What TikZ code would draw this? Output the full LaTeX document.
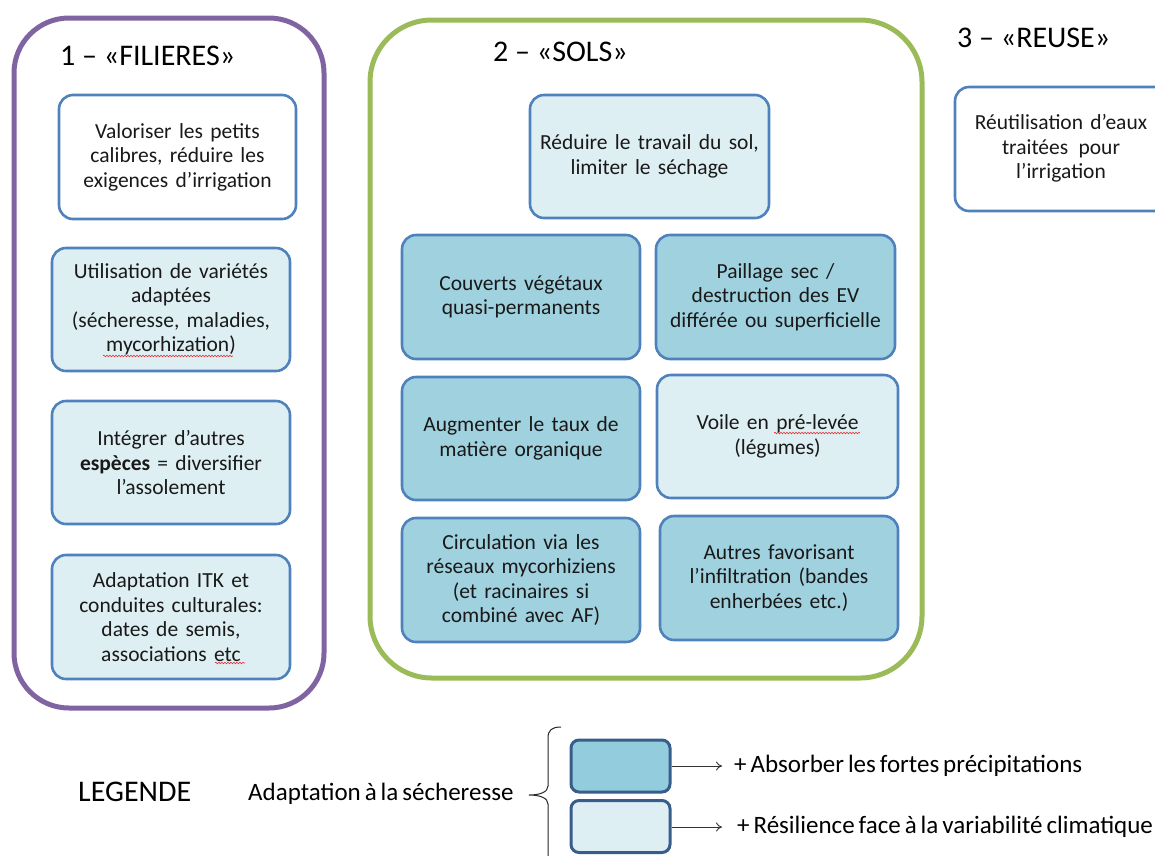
\documentclass[tikz,border=0pt]{standalone}
\usepackage{fontspec}
\setmainfont{Carlito}
\newfontfamily\legfont[WordSpace=0.7]{Carlito}
\newcommand\boxfnt{\fontsize{21.5}{24.5}\selectfont\spaceskip=0.34em plus 0.1em\relax}
\usetikzlibrary{decorations.pathmorphing,arrows.meta}
\definecolor{bcol}{HTML}{4F81BD}
\definecolor{darkfill}{HTML}{A0D1DF}
\definecolor{lightfill}{HTML}{DEEFF4}
\definecolor{purp}{HTML}{8064A2}
\definecolor{grn}{HTML}{9BBB59}
\definecolor{lgb}{HTML}{385D8A}
\definecolor{lgdark}{HTML}{93CDDD}
\definecolor{spell}{HTML}{E03030}
\tikzset{
  sbox/.style={draw=bcol, line width=2.6pt, rounded corners=14pt, inner sep=0pt,
    align=center, font=\boxfnt, text=black!90},
  dk/.style={sbox, fill=darkfill},
  lt/.style={sbox, fill=lightfill},
  wh/.style={sbox, fill=white},
  grp/.style={line width=5pt, inner sep=0pt, fill=none},
  ttl/.style={anchor=west, inner sep=0pt, font=\fontsize{30}{32}\selectfont},
  legtxt/.style={anchor=west, inner sep=0pt, font=\legfont\fontsize{25}{28}\selectfont},
  lgbox/.style={draw=lgb, line width=3pt, rounded corners=8pt, inner sep=0pt,
    minimum width=99pt, minimum height=52pt},
  squig/.style={spell, line width=0.6pt, decorate,
    decoration={snake, segment length=3pt, amplitude=0.8pt}},
  arr/.style={line width=0.9pt, black!80, -{To[length=6pt,width=9pt]}}
}
\begin{document}
\begin{tikzpicture}[x=1pt,y=-1pt]
\useasboundingbox (0,0) rectangle (1155,855);
\clip (0,0) rectangle (1155,855);

% group containers
\node[grp, draw=purp, rounded corners=55pt, minimum width=310pt, minimum height=690pt] (g1) at (169,363) {};
\node[grp, draw=grn, rounded corners=62pt, minimum width=552pt, minimum height=658pt] (g2) at (646,349) {};

% titles
\node[ttl] (t1) at (60,56) {1 – «FILIERES»};
\node[ttl] (t2) at (493,52) {2 – «SOLS»};
\node[ttl] (t3) at (957,38) {3 – «REUSE»};

% column 1
\node[wh, minimum width=237pt, minimum height=124pt] (a) at (177.5,157)
  {Valoriser les petits\\calibres, réduire les\\exigences d’irrigation};
\node[lt, minimum width=238pt, minimum height=123pt] (b) at (171,309.5)
  {Utilisation de variétés\\adaptées\\(sécheresse, maladies,\\mycorhization)};
\node[lt, minimum width=238pt, minimum height=123pt] (c) at (171,462.5)
  {Intégrer d’autres\\\textbf{espèces} = diversifier\\l’assolement};
\node[lt, minimum width=238pt, minimum height=124pt] (d) at (171,617)
  {Adaptation ITK et\\conduites culturales:\\dates de semis,\\associations etc};

% column 2
\node[lt, minimum width=239pt, minimum height=123pt] (s0) at (649.5,156.5)
  {Réduire le travail du sol,\\limiter le séchage};
\node[dk, minimum width=238pt, minimum height=124pt] (s1) at (521,297)
  {Couverts végétaux\\quasi-permanents};
\node[dk, minimum width=239pt, minimum height=124pt] (s2) at (775.5,297)
  {Paillage sec /\\destruction des EV\\différée ou superficielle};
\node[dk, minimum width=238pt, minimum height=123pt] (s3) at (521,438.5)
  {Augmenter le taux de\\matière organique};
\node[lt, minimum width=241pt, minimum height=123pt] (s4) at (777.5,436.5)
  {Voile en pré-levée\\(légumes)};
\node[dk, minimum width=238pt, minimum height=124pt] (s5) at (521,580)
  {Circulation via les\\réseaux mycorhiziens\\(et racinaires si\\combiné avec AF)};
\node[dk, minimum width=238pt, minimum height=124pt] (s6) at (779,578)
  {Autres favorisant\\l’infiltration (bandes\\enherbées etc.)};

% column 3
\node[wh, minimum width=238pt, minimum height=124pt] (r) at (1074,149) {};
\node[align=center, inner sep=0pt, font=\boxfnt, text=black!90] (rt) at (1061,148.5)
  {Réutilisation d’eaux\\traitées\hspace{3pt} pour\\l’irrigation};

% spell-check squiggles
\draw[squig] (103,356) -- (233,356);
\draw[squig] (215,663) -- (245,663);
\draw[squig] (774,433) -- (860,433);

% legend
\node[legtxt, font=\legfont\fontsize{30}{32}\selectfont] (leg) at (78,792) {LEGENDE};
\node[legtxt] (ad) at (248,794) {Adaptation à la sécheresse};
\draw[line width=1pt, black!85] (561,727) .. controls (552,727) and (548,730) .. (548,738)
  -- (548,786) .. controls (548,792) and (540,795) .. (529,795)
  .. controls (540,795) and (548,798) .. (548,804) -- (548,870);
\node[lgbox, fill=lgdark] (l1) at (620.5,766) {};
\node[lgbox, fill=lightfill] (l2) at (620.5,826.5) {};
\coordinate (e1) at (722,766);
\coordinate (e2) at (722,827);
\draw[arr] (l1.east) -- (e1);
\draw[arr] (l2.east |- e2) -- (e2);
\node[legtxt] (lt1) at (734,766) {+ Absorber les fortes précipitations};
\node[legtxt] (lt2) at (737,827) {+ Résilience face à la variabilité climatique};
\end{tikzpicture}
\end{document}
